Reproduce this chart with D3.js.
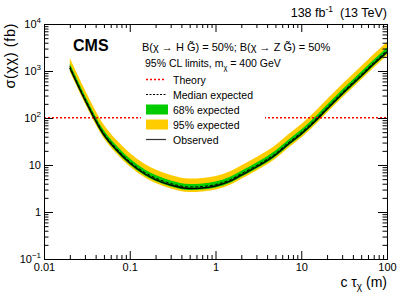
<!DOCTYPE html>
<html>
<head>
<meta charset="utf-8">
<script src="https://cdn.jsdelivr.net/npm/d3@7"></script>
<style>
  body { margin: 0; background: #fff; }
  svg { font-family: "Liberation Sans", Arial, Helvetica, sans-serif; }
</style>
</head>
<body>
<div id="chart-area"></div>
<script>
// lifetimes c*tau (m) and limits on sigma (fb)
const ctau = [0.02, 0.03, 0.05, 0.07, 0.1, 0.15, 0.2, 0.3, 0.5, 0.7, 1, 1.5, 2, 3, 5, 7, 10, 15, 20, 30, 50, 70, 100]
const observed = [1160, 242, 43.5, 20.8, 11.0, 6.44, 4.91, 3.75, 3.16, 3.24, 3.57, 4.57, 6.07, 9.06, 16.3, 27.3, 45.7, 90.6, 155, 324, 783, 1409, 2535]
const expected = [1248, 260, 46.8, 22.4, 11.8, 6.93, 5.28, 4.04, 3.40, 3.49, 3.84, 4.92, 6.53, 9.75, 17.5, 29.4, 49.2, 97.5, 167, 349, 843, 1516, 2728]
const exp68Lo = [1078, 225, 40.4, 19.3, 10.2, 5.98, 4.56, 3.48, 2.94, 3.01, 3.32, 4.25, 5.64, 8.42, 15.1, 25.4, 42.5, 84.2, 144, 301, 727, 1309, 2355]
const exp68Hi = [1447, 302, 54.2, 25.9, 13.7, 8.03, 6.12, 4.68, 3.94, 4.04, 4.45, 5.70, 7.57, 11.3, 20.3, 34.0, 57.0, 113, 193, 404, 976, 1757, 3161]
const exp95Lo = [978, 204, 36.7, 17.5, 9.27, 5.43, 4.14, 3.16, 2.66, 2.73, 3.01, 3.85, 5.12, 7.64, 13.7, 23.0, 38.5, 76.4, 131, 273, 660, 1188, 2137]
const exp95Hi = [1893, 395, 71.0, 33.9, 18.0, 10.5, 8.01, 6.12, 5.16, 5.29, 5.83, 7.46, 9.91, 14.8, 26.6, 44.6, 74.6, 148, 253, 529, 1278, 2300, 4137]

// theory cross section for m = 400 GeV (flat in c*tau)
const theoryCtau = [0.01, 100]
const theoryXsec = [101, 101]

// axis labels
const xTickValues = [0.01, 0.1, 1, 10, 100]
const xTickLabels = ["0.01", "0.1", "1", "10", "100"]
const yTickValues = [0.1, 1, 10, 100, 1000, 10000]
const yTickLabels = [["10", "\u22121"], ["1", ""], ["10", ""], ["10", "2"], ["10", "3"], ["10", "4"]]

const W = 407
const H = 294
const MARGIN = { LEFT: 44, RIGHT: 20, TOP: 24, BOTTOM: 35 }

const svg = d3.select("#chart-area").append("svg")
    .attr("width", W)
    .attr("height", H)

const x = d3.scaleLog()
    .domain([0.01, 100])
    .range([MARGIN.LEFT, W - MARGIN.RIGHT])

const y = d3.scaleLog()
    .domain([0.1, 10000])
    .range([H - MARGIN.BOTTOM, MARGIN.TOP])

const rows = ctau.map((c, i) => ({
    c: c, obs: observed[i], exp: expected[i],
    lo68: exp68Lo[i], hi68: exp68Hi[i], lo95: exp95Lo[i], hi95: exp95Hi[i]
}))

// clip everything to the frame
svg.append("clipPath").attr("id", "frame")
  .append("rect")
    .attr("x", x.range()[0]).attr("y", y.range()[1])
    .attr("width", x.range()[1] - x.range()[0])
    .attr("height", y.range()[0] - y.range()[1])

const plot = svg.append("g").attr("clip-path", "url(#frame)")

const band = (lo, hi) => d3.area()
    .x(d => x(d.c))
    .y0(d => y(d[lo]))
    .y1(d => y(d[hi]))
    .curve(d3.curveMonotoneX)

plot.append("path")
    .attr("d", band("lo95", "hi95")(rows))
    .attr("fill", "#ffcc00")

plot.append("path")
    .attr("d", band("lo68", "hi68")(rows))
    .attr("fill", "#00cc00")

// theory line
const theory = theoryCtau.map((c, i) => ({ c: c, v: theoryXsec[i] }))
plot.append("path")
    .attr("d", d3.line().x(d => x(d.c)).y(d => y(d.v))(theory))
    .attr("fill", "none")
    .attr("stroke", "#ff0000")
    .attr("stroke-width", 1.5)
    .attr("stroke-dasharray", "2,2")

const line = key => d3.line()
    .x(d => x(d.c))
    .y(d => y(d[key]))
    .curve(d3.curveMonotoneX)

plot.append("path")
    .attr("d", line("exp")(rows))
    .attr("fill", "none")
    .attr("stroke", "#000")
    .attr("stroke-width", 1)
    .attr("stroke-dasharray", "3,2")

plot.append("path")
    .attr("d", line("obs")(rows))
    .attr("fill", "none")
    .attr("stroke", "#000")
    .attr("stroke-width", 1.4)

// axes, ROOT style: ticks inside, mirrored on top/right
const minors = d3.range(-2, 2).flatMap(e => d3.range(2, 10).map(m => m * Math.pow(10, e)))
const yMinors = d3.range(-1, 4).flatMap(e => d3.range(2, 10).map(m => m * Math.pow(10, e)))

const axBottom = svg.append("g")
    .attr("transform", `translate(0,${y.range()[0]})`)
axBottom.append("g")
    .call(d3.axisBottom(x).tickValues(minors).tickSize(-4).tickFormat(""))
axBottom.append("g")
    .call(d3.axisBottom(x).tickValues(xTickValues).tickSize(-8).tickPadding(4)
        .tickFormat((d, i) => xTickLabels[i]))

const axTop = svg.append("g")
    .attr("transform", `translate(0,${y.range()[1]})`)
axTop.append("g").call(d3.axisTop(x).tickValues(minors).tickSize(-4).tickFormat(""))
axTop.append("g").call(d3.axisTop(x).tickValues(xTickValues).tickSize(-8).tickFormat(""))

const axLeft = svg.append("g")
    .attr("transform", `translate(${x.range()[0]},0)`)
axLeft.append("g").call(d3.axisLeft(y).tickValues(yMinors).tickSize(-4.5).tickFormat(""))
axLeft.append("g").call(d3.axisLeft(y).tickValues(yTickValues).tickSize(-9).tickFormat(""))

const axRight = svg.append("g")
    .attr("transform", `translate(${x.range()[1]},0)`)
axRight.append("g").call(d3.axisRight(y).tickValues(yMinors).tickSize(-4.5).tickFormat(""))
axRight.append("g").call(d3.axisRight(y).tickValues(yTickValues).tickSize(-9).tickFormat(""))

svg.selectAll(".domain").attr("stroke", "#000").attr("stroke-width", 1)
svg.selectAll(".tick line").attr("stroke", "#000")
svg.selectAll(".tick text").attr("font-size", "11px").attr("fill", "#000")
    .attr("font-family", "'Liberation Sans', Arial, sans-serif")

// y tick labels with superscripts
yTickValues.forEach((v, i) => {
    const t = svg.append("text")
        .attr("x", x.range()[0] - 3)
        .attr("y", y(v) + 4)
        .attr("text-anchor", "end")
        .attr("font-size", "11px")
    const [base, sup] = yTickLabels[i]
    if (sup) {
        t.append("tspan").text(base)
        t.append("tspan").attr("dy", -5).attr("font-size", "8px").text(sup)
    } else {
        t.text(base)
    }
})

// axis titles
const xt = svg.append("text")
    .attr("x", x.range()[1])
    .attr("y", 287)
    .attr("text-anchor", "end")
    .attr("font-size", "14px")
xt.append("tspan").text("c \u03c4")
xt.append("tspan").attr("dy", 3).attr("font-size", "10px").text("\u03c7")
xt.append("tspan").attr("dy", -3).text(" (m)")

svg.append("text")
    .attr("transform", `translate(15,${y.range()[1] - 1}) rotate(-90)`)
    .attr("text-anchor", "end")
    .attr("font-size", "14.5px")
    .attr("letter-spacing", "0.6px")
    .text("\u03c3(\u03c7\u03c7) (fb)")

// top labels
const lumi = svg.append("text")
    .attr("x", x.range()[1])
    .attr("y", 17)
    .attr("text-anchor", "end")
    .attr("font-size", "12.5px")
lumi.append("tspan").text("138 fb")
lumi.append("tspan").attr("dy", -5).attr("font-size", "8.5px").text("-1")
lumi.append("tspan").attr("dy", 5).text("\u00a0\u00a0(13 TeV)")

svg.append("text")
    .attr("x", 73)
    .attr("y", 51)
    .attr("font-size", "16px")
    .attr("font-weight", "bold")
    .text("CMS")

// legend
const lg = svg.append("g")
lg.append("rect")
    .attr("x", 141).attr("y", 72)
    .attr("width", 124).attr("height", 74)
    .attr("fill", "#fff")

svg.append("text")
    .attr("x", 142).attr("y", 51)
    .attr("font-size", "11px")
    .text("B(\u03c7 \u2192 H G\u0303) = 50%; B(\u03c7 \u2192 Z G\u0303) = 50%")

const cl = svg.append("text")
    .attr("x", 145).attr("y", 67)
    .attr("font-size", "10.5px")
cl.append("tspan").text("95% CL limits, m")
cl.append("tspan").attr("dy", 3).attr("font-size", "7.5px").text("\u03c7")
cl.append("tspan").attr("dy", -3).text(" = 400 GeV")

const entries = ["Theory", "Median expected", "68% expected", "95% expected", "Observed"]
const ly = [79.5, 94.5, 109.5, 124.5, 139.5]

lg.append("line").attr("x1", 146).attr("x2", 166).attr("y1", ly[0]).attr("y2", ly[0])
    .attr("stroke", "#ff0000").attr("stroke-width", 1.5).attr("stroke-dasharray", "2,2")
lg.append("line").attr("x1", 146).attr("x2", 166).attr("y1", ly[1]).attr("y2", ly[1])
    .attr("stroke", "#000").attr("stroke-width", 1).attr("stroke-dasharray", "2,1.5")
lg.append("rect").attr("x", 146).attr("y", ly[2] - 5).attr("width", 22).attr("height", 10)
    .attr("fill", "#00cc00")
lg.append("rect").attr("x", 146).attr("y", ly[3] - 5).attr("width", 22).attr("height", 10)
    .attr("fill", "#ffcc00")
lg.append("line").attr("x1", 146).attr("x2", 166).attr("y1", ly[4]).attr("y2", ly[4])
    .attr("stroke", "#333").attr("stroke-width", 1.2)

lg.selectAll("text.entry")
    .data(entries)
    .enter().append("text")
    .attr("class", "entry")
    .attr("x", 173)
    .attr("y", (d, i) => ly[i] + 4)
    .attr("font-size", "10.5px")
    .text(d => d)
</script>
</body>
</html>
